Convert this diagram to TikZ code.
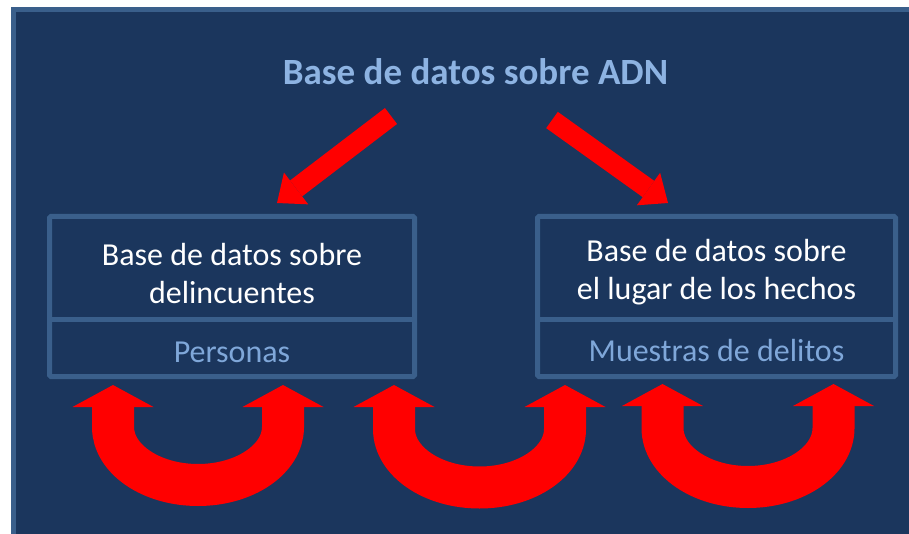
\documentclass[tikz,border=0pt]{standalone}
\usepackage{fontspec}
\setmainfont{Carlito}
\usetikzlibrary{arrows.meta}
\definecolor{bgblue}{HTML}{1B365D}
\definecolor{edgeblue}{HTML}{3A5F8B}
\definecolor{titleblue}{HTML}{8DB3E2}
\definecolor{subblue}{HTML}{7FA7D9}
\definecolor{arrowred}{HTML}{FF0000}
\begin{document}
\begin{tikzpicture}[x=1pt,y=1pt,
  dbbox/.style={draw=edgeblue, line width=5pt, rounded corners=1.5pt,
    minimum width=365pt, minimum height=160pt, inner sep=0pt},
  divider/.style={draw=edgeblue, line width=5pt},
  boxtext/.style={text=white, font=\fontsize{32}{38}\selectfont, align=center, inner sep=0pt},
  subtext/.style={text=subblue, font=\fontsize{32}{38}\selectfont, inner sep=0pt, anchor=base},
  titletext/.style={text=titleblue, font=\fontsize{37}{40}\selectfont\bfseries, inner sep=0pt, anchor=base},
  bigarrow/.style={draw=arrowred, line width=20pt,
    -{Triangle[width=40pt,length=24pt,line width=0pt]}},
  uarrow/.style={draw=arrowred, line width=42pt,
    {Triangle[width=81pt,length=22pt,line width=0pt]}-{Triangle[width=81pt,length=22pt,line width=0pt]}}
]
\useasboundingbox (0,0) rectangle (909,-534);
\fill[white] (0,0) rectangle (909,-534);
\begin{scope}
  \clip (0,0) rectangle (909,-534);
  \draw[fill=bgblue, draw=edgeblue, line width=5pt] (13.5,-9.5) rectangle (940,-570);
\end{scope}

% title
\node[titletext] (title) at (475.5,-85) {Base de datos sobre ADN};

% boxes
\node[dbbox] (leftbox) at (232,-296.5) {};
\node[dbbox, minimum width=358pt] (rightbox) at (716.5,-296.5) {};
\draw[divider] (leftbox.west |- 0,-319) -- (leftbox.east |- 0,-319);
\draw[divider] (rightbox.west |- 0,-319) -- (rightbox.east |- 0,-319);

\node[boxtext] (lefttext) at (232,-273.5) {Base de datos sobre\\delincuentes};
\node[boxtext] (righttext) at (716.5,-272) {Base de datos sobre\\el lugar de los hechos};
\node[subtext] (leftsub) at (232,-362.7) {Personas};
\node[subtext] (rightsub) at (716.5,-361.7) {Muestras de delitos};

% diagonal arrows
\coordinate (la0) at (391,-116);
\coordinate (la1) at (277,-203);
\coordinate (ra0) at (552,-120);
\coordinate (ra1) at (668,-203);
\draw[bigarrow] (la0) -- (la1);
\draw[bigarrow] (ra0) -- (ra1);

% U arrows
\coordinate (u1a) at (113,-385);
\coordinate (u1b) at (283,-385);
\coordinate (u2a) at (394,-385);
\coordinate (u2b) at (565,-385);
\coordinate (u3a) at (662.5,-384);
\coordinate (u3b) at (833.5,-384);
\draw[uarrow] (u1a) -- ++(0,-42) arc[start angle=180, end angle=360, x radius=85, y radius=58] -- (u1b);
\draw[uarrow] (u2a) -- ++(0,-44) arc[start angle=180, end angle=360, x radius=85.5, y radius=58.5] -- (u2b);
\draw[uarrow] (u3a) -- ++(0,-44) arc[start angle=180, end angle=360, x radius=85.5, y radius=59] -- (u3b);
\end{tikzpicture}
\end{document}
